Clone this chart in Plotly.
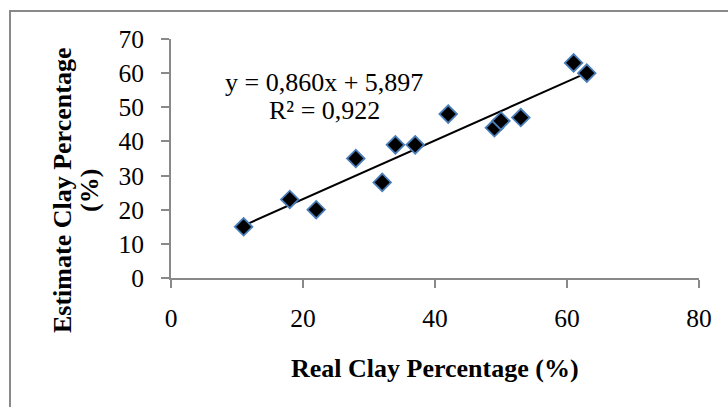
import plotly.graph_objects as go
import numpy as np

# Data
real_clay = [11, 18, 22, 28, 32, 34, 37, 42, 49, 50, 53, 61, 63]
estimate_clay = [15, 23, 20, 35, 28, 39, 39, 48, 44, 46, 47, 63, 60]
slope = 0.860
intercept = 5.897
r_squared = "0,922"
x_ticks = [0, 20, 40, 60, 80]
y_ticks = [0, 10, 20, 30, 40, 50, 60, 70]

W, H = 728, 407
L, R, T, B = 171, 29, 39, 129
pw, ph = W - L - R, H - T - B

def px(xp):
    return (xp - L) / pw

def py(yp):
    return (H - B - yp) / ph

FONT = "Liberation Serif, Times New Roman, serif"
AX = "#898989"

trend_x = [min(real_clay), max(real_clay)]
trend_y = [slope * v + intercept for v in trend_x]

fig = go.Figure()
fig.add_trace(go.Scatter(
    x=trend_x, y=trend_y, mode="lines",
    line=dict(color="black", width=2), showlegend=False, hoverinfo="skip"))
fig.add_trace(go.Scatter(
    x=real_clay, y=estimate_clay, mode="markers",
    marker=dict(symbol="diamond", size=13.5, color="black",
                line=dict(color="#4A7EBB", width=1.8)),
    showlegend=False))

axis_common = dict(
    showgrid=False, zeroline=False, showline=True, linecolor=AX, linewidth=2,
    ticks="outside", ticklen=8, tickwidth=2, tickcolor=AX,
    tickfont=dict(family=FONT, size=25.5, color="black"),
)

fig.update_xaxes(range=[0, 80], tickvals=x_ticks, ticklabelstandoff=8, **axis_common)
fig.update_yaxes(range=[0, 70], tickvals=y_ticks, ticklabelstandoff=12, **axis_common)

annotations = [
    dict(x=px(324), y=py(82), xref="paper", yref="paper",
         text=f"y = {slope:.3f}x + {intercept:.3f}".replace(".", ","),
         showarrow=False, xanchor="center", yanchor="middle",
         font=dict(family=FONT, size=26, color="black")),
    dict(x=px(324), y=py(110), xref="paper", yref="paper",
         text=f"R² = {r_squared}",
         showarrow=False, xanchor="center", yanchor="middle",
         font=dict(family=FONT, size=26, color="black")),
    dict(x=px(435), y=py(368), xref="paper", yref="paper",
         text="<b>Real Clay Percentage (%)</b>",
         showarrow=False, xanchor="center", yanchor="middle",
         font=dict(family=FONT, size=26, color="black")),
    dict(x=px(62), y=py(191), xref="paper", yref="paper",
         text="<b>Estimate Clay Percentage</b>", textangle=-90,
         showarrow=False, xanchor="center", yanchor="middle",
         font=dict(family=FONT, size=26, color="black")),
    dict(x=px(89), y=py(191), xref="paper", yref="paper",
         text="<b>(%)</b>", textangle=-90,
         showarrow=False, xanchor="center", yanchor="middle",
         font=dict(family=FONT, size=26, color="black")),
]

fig.update_layout(
    width=W, height=H,
    margin=dict(l=L, r=R, t=T, b=B),
    paper_bgcolor="white", plot_bgcolor="white",
    annotations=annotations,
    shapes=[dict(type="rect", xref="paper", yref="paper",
                 x0=px(10), x1=px(760), y0=py(440), y1=py(11),
                 line=dict(color=AX, width=2), layer="below")],
)

fig.write_html("out.html")
